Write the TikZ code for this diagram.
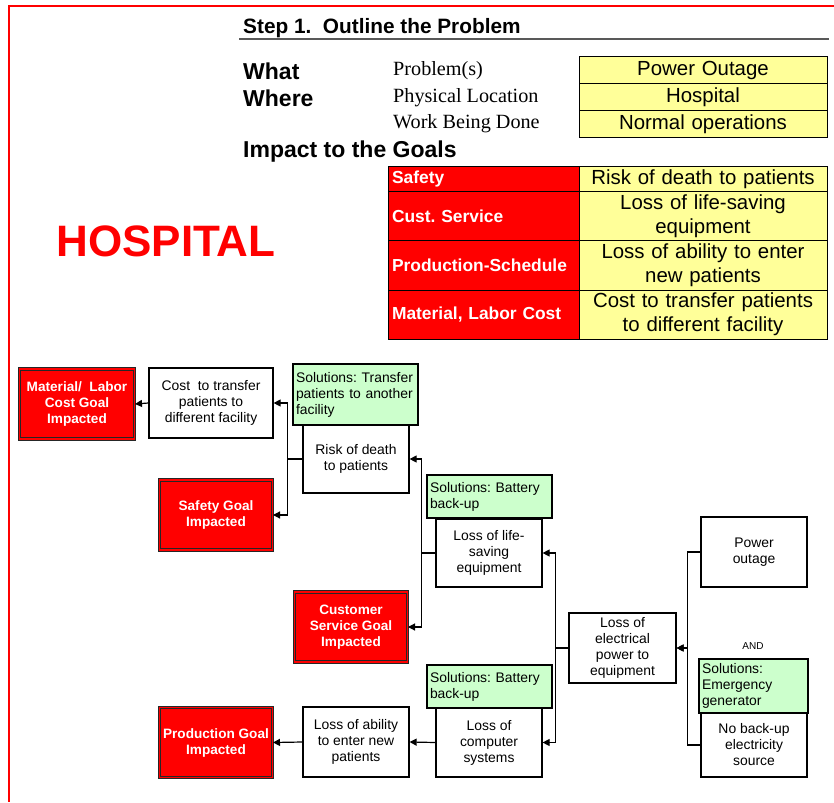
\documentclass[tikz,border=0pt]{standalone}
\usepackage{fontspec}
\setmainfont{Liberation Sans}
\newfontfamily\timesfont{Liberation Serif}
\usetikzlibrary{arrows.meta}
\definecolor{cellyellow}{HTML}{FFFF99}
\definecolor{solgreen}{HTML}{CCFFCC}
\definecolor{goalred}{HTML}{FF0000}
\frenchspacing
\begin{document}
\begin{tikzpicture}[
			x=1pt, y=-1pt,
			heading/.style={anchor=west, inner sep=0pt, font=\fontsize{23}{27}\selectfont\bfseries},
			rowlabel/.style={anchor=west, inner sep=0pt, font=\fontsize{20.2}{24}\selectfont\timesfont},
			ycell/.style={draw, fill=cellyellow, line width=1pt, align=center, inner sep=0pt,
				text width=240pt, minimum width=248pt, font=\fontsize{20.4}{24}\selectfont},
			rcell/.style={draw, fill=goalred, line width=1pt, align=left, inner xsep=4pt, inner ysep=0pt,
				text width=183pt, text=white, font=\fontsize{17.4}{21}\selectfont\bfseries},
			cause/.style={draw, fill=white, line width=1.2pt, align=center, inner sep=2pt,
				minimum width=106pt, font=\fontsize{13.9}{16}\selectfont},
			solution/.style={draw, fill=solgreen, line width=1.2pt, align=left, inner sep=3pt,
				minimum width=125pt, text width=119pt, font=\fontsize{13.9}{16}\selectfont},
			goal/.style={draw=black!85, fill=goalred, double=goalred, double distance=1.5pt, line width=1pt,
				align=center, text=white, minimum width=113pt, minimum height=70pt,
				font=\fontsize{13.6}{16}\selectfont\bfseries},
			arr/.style={line width=1.2pt, -{Triangle[length=7pt,width=7pt]}}
		]
		\useasboundingbox (0,0) rectangle (834,802);
		% frame
		\draw[goalred, line width=2.5pt] (834,6) -- (9,6) -- (9,802);

		% Step 1 header
		\node[anchor=west, inner sep=0pt, font=\fontsize{20.8}{24}\selectfont\bfseries] (title) at (243,28)
			{Step 1.\ \ Outline the Problem};
		\draw[black!65, line width=1.5pt] (239,39) -- (829,39);

		\node[heading] (what) at (243,71) {What};
		\node[heading] (where) at (243,98) {Where};
		\node[rowlabel] (problem) at (393,71) {Problem(s)};
		\node[rowlabel] (location) at (393,98) {Physical Location};
		\node[rowlabel] (work) at (393,124) {Work Being Done};
		\node[ycell, minimum height=27pt] (outage) at (703,70) {Power Outage};
		\node[ycell, minimum height=27pt] (hospital) at (703,97) {Hospital};
		\node[ycell, minimum height=27pt] (normal) at (703,124) {Normal operations};

		% goals table
		\node[heading] (impact) at (243,152) {Impact to the Goals};
		\node[rcell, minimum height=25pt] (gsafety) at (483.5,179.5) {Safety};
		\node[rcell, minimum height=48pt] (gcust) at (483.5,216) {Cust. Service};
		\node[rcell, minimum height=50pt] (gprod) at (483.5,265) {Production-Schedule};
		\node[rcell, minimum height=49pt] (gcost) at (483.5,314.5) {Material, Labor Cost};
		\node[ycell, minimum height=25pt] (isafety) at (703,179.5) {Risk of death to patients};
		\node[ycell, minimum height=48pt] (icust) at (703,216) {Loss of life-saving\\equipment};
		\node[ycell, minimum height=50pt] (iprod) at (703,265) {Loss of ability to enter\\new patients};
		\node[ycell, minimum height=49pt] (icost) at (703,314.5) {Cost to transfer patients\\to different facility};

		\node[text=goalred, inner sep=0pt, font=\fontsize{44}{50}\selectfont\bfseries] (name) at (166,241) {HOSPITAL};

		% cause tree
		\node[goal, minimum width=115pt] (matgoal) at (77,404) {Material/\ \ Labor\\Cost Goal\\Impacted};
		\node[cause, minimum width=124pt, minimum height=70pt] (cost) at (211,403)
			{Cost\ \ to transfer\\patients to\\different facility};
		\node[cause, minimum height=68pt] (risk) at (356,459) {Risk of death\\to patients};
		\node[solution, minimum height=61pt] (soltransfer) at (355.5,394.5)
			{Solutions: Transfer\\patients to another\\facility};
		\node[goal] (safegoal) at (216,515) {Safety Goal\\Impacted};
		\node[goal] (custgoal) at (351,627) {Customer\\Service Goal\\Impacted};
		\node[cause, minimum height=68pt] (lifesave) at (489,553) {Loss of life-\\saving\\equipment};
		\node[solution, minimum height=43pt] (solbattery) at (489.5,496.5) {Solutions: Battery\\back-up};
		\node[cause, minimum width=107pt, minimum height=70pt] (elec) at (622.5,648)
			{Loss of\\electrical\\power to\\equipment};
		\node[cause, minimum height=69pt] (computer) at (489,742.5) {Loss of\\computer\\systems};
		\node[solution, minimum height=43pt] (solbattery2) at (489.5,686.5) {Solutions: Battery\\back-up};
		\node[cause, minimum height=70pt] (ability) at (356,742) {Loss of ability\\to enter new\\patients};
		\node[goal] (prodgoal) at (216,742.5) {Production Goal\\Impacted};
		\node[cause, minimum height=70pt] (power) at (754,552) {Power\\outage};
		\node[cause, minimum height=64pt] (nobackup) at (754,745) {No back-up\\electricity\\source};
		\node[solution, minimum width=109pt, text width=103pt, minimum height=54pt] (solgen) at (753.5,686)
			{Solutions:\\Emergency\\generator};
		\node[inner sep=0pt, font=\fontsize{10}{12}\selectfont] (and) at (753,646) {AND};

		% connectors
		\draw[arr] (cost.west) -- (matgoal.east);
		\draw[arr] (risk.west) -- ++(-15,0) |- (cost.east);
		\draw[arr] (risk.west) -- ++(-15,0) |- (safegoal.east);
		\draw[arr] (lifesave.west) -- ++(-14,0) |- (risk.east);
		\draw[arr] (lifesave.west) -- ++(-14,0) |- (custgoal.east);
		\draw[arr] (elec.west) -- ++(-13,0) |- (lifesave.east);
		\draw[arr] (elec.west) -- ++(-13,0) |- (computer.east);
		\draw[arr] (computer.west) -- (ability.east);
		\draw[arr] (ability.west) -- (prodgoal.east);
		\draw[arr] (power.west) -- ++(-13,0) |- (elec.east);
		\draw[arr] (nobackup.west) -- ++(-13,0) |- (elec.east);
	\end{tikzpicture}
\end{document}
